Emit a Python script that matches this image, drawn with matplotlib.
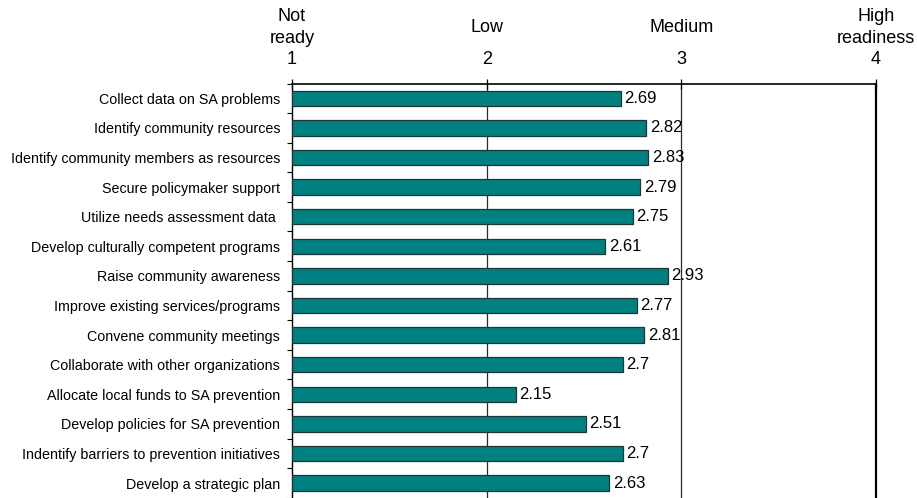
import matplotlib
matplotlib.use("Agg")
import matplotlib.pyplot as plt
import matplotlib.transforms as mtransforms
import numpy as np

plt.rcParams['font.family'] = ['Liberation Sans', 'DejaVu Sans']

categories = [
    "Collect data on SA problems",
    "Identify community resources",
    "Identify community members as resources",
    "Secure policymaker support",
    "Utilize needs assessment data ",
    "Develop culturally competent programs",
    "Raise community awareness",
    "Improve existing services/programs",
    "Convene community meetings",
    "Collaborate with other organizations",
    "Allocate local funds to SA prevention",
    "Develop policies for SA prevention",
    "Indentify barriers to prevention initiatives",
    "Develop a strategic plan",
]
values = [2.69, 2.82, 2.83, 2.79, 2.75, 2.61, 2.93, 2.77, 2.81, 2.7, 2.15, 2.51, 2.7, 2.63]
tick_values = [1, 2, 3, 4]
tick_words = ["Not\nready", "Low", "Medium", "High\nreadiness"]

fig = plt.figure(figsize=(9.17, 4.98), dpi=100)
ax = fig.add_axes([292/917, 1 - 497.8/498, 584/917, (497.8 - 83.5)/498])

n = len(categories)
y = np.arange(n)
base = tick_values[0]
bars = ax.barh(y, np.array(values) - base, left=base, height=0.52,
               color='#008080', edgecolor='#1f3535', linewidth=0.9, zorder=3)
ax.bar_label(bars, labels=[f"{v:g}" for v in values], padding=2.5,
             fontsize=12, color='black', zorder=4)

ax.set_xlim(tick_values[0], tick_values[-1])
ax.set_ylim(n - 0.5, -0.5)

ax.set_yticks(y)
ax.set_yticklabels(categories, fontsize=10.25)
ax.set_yticks(np.arange(n + 1) - 0.5, minor=True)
ax.tick_params(axis='y', which='major', length=0, pad=8.6)
ax.tick_params(axis='y', which='minor', length=3.6, width=0.8, direction='out')

ax.xaxis.set_ticks_position('top')
ax.xaxis.set_label_position('top')
ax.set_xticks(tick_values)
ax.set_xticklabels([str(t) for t in tick_values], fontsize=13)
ax.tick_params(axis='x', which='major', direction='inout', length=7.2, width=0.9, pad=7.3)

for xv in tick_values[1:-1]:
    ax.axvline(xv, color='#2a2a2a', linewidth=0.9, zorder=1)

ax.spines['bottom'].set_visible(False)
ax.spines['top'].set_linewidth(1.2)
ax.spines['left'].set_linewidth(1.0)
ax.spines['right'].set_linewidth(1.6)

trans = mtransforms.blended_transform_factory(ax.transData, fig.transFigure)
for xv, w in zip(tick_values, tick_words):
    ax.text(xv, 1 - 27.5/498, w, transform=trans, ha='center', va='center',
            fontsize=13, linespacing=1.42)

fig.savefig("out.png", dpi=100)
